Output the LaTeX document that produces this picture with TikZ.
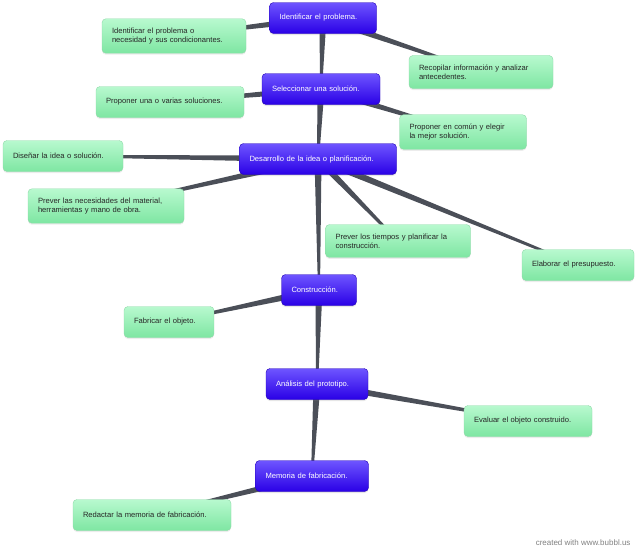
\documentclass[tikz,border=0pt]{standalone}
\usepackage{fontspec}
\setmainfont{Liberation Sans}
\usetikzlibrary{calc,backgrounds,shadows}
\definecolor{edgegray}{HTML}{4B4F58}
\definecolor{bluetop}{HTML}{6E55FF}
\definecolor{bluebot}{HTML}{2A00E6}
\definecolor{blueline}{HTML}{2200B8}
\definecolor{greentop}{HTML}{B8F9CF}
\definecolor{greenbot}{HTML}{7EE6A2}
\definecolor{greenline}{HTML}{8ED9A8}
\definecolor{textgray}{HTML}{262626}

\begin{document}
\begin{tikzpicture}[
    x=1pt, y=-1pt,
    every node/.style={font=\fontsize{7.6}{9.4}\selectfont},
    stage/.style={draw=blueline, rounded corners=4pt, top color=bluetop, bottom color=bluebot,
        text=white, align=left, inner xsep=10pt, inner ysep=9pt, minimum height=31pt, text width=#1,
        drop shadow={opacity=0.2, shadow xshift=0pt, shadow yshift=-1.5pt}},
    task/.style={draw=greenline, rounded corners=4pt, top color=greentop, bottom color=greenbot,
        text=textgray, align=left, inner xsep=10pt, inner ysep=9pt, minimum height=31pt, text width=#1,
        drop shadow={opacity=0.15, shadow xshift=0pt, shadow yshift=-1.5pt}},
    edge/.style={fill=edgegray}
]
\useasboundingbox (0,0) rectangle (640,554);

% etapas
\node[stage=87pt]  (prob) at (323,18)  {Identificar el problema.};
\node[stage=98pt]  (sel)  at (321,89)  {Seleccionar una solución.};
\node[stage=137pt] (des)  at (318,159) {Desarrollo de la idea o planificación.};
\node[stage=55pt]  (cons) at (319,290) {Construcción.};
\node[stage=82pt]  (anal) at (317,384) {Análisis del prototipo.};
\node[stage=93pt]  (mem)  at (312,476) {Memoria de fabricación.};

% tareas
\node[task=124pt] (necesidad)   at (174,36)  {Identificar el problema o\\necesidad y sus condicionantes.};
\node[task=124pt] (recopilar)   at (481,72)  {Recopilar información y analizar\\antecedentes.};
\node[task=128pt] (varias)      at (170,102) {Proponer una o varias soluciones.};
\node[task=107pt] (elegir)      at (463,132) {Proponer en común y elegir\\la mejor solución.};
\node[task=100pt] (disenar)     at (63,156)  {Diseñar la idea o solución.};
\node[task=136pt] (material)    at (106,206) {Prever las necesidades del material,\\herramientas y mano de obra.};
\node[task=125pt] (tiempos)     at (398,241) {Prever los tiempos y planificar la\\construcción.};
\node[task=92pt]  (presupuesto) at (578,265) {Elaborar el presupuesto.};
\node[task=70pt]  (fabricar)    at (169,322) {Fabricar el objeto.};
\node[task=108pt] (evaluar)     at (528,421) {Evaluar el objeto construido.};
\node[task=138pt] (redactar)    at (152,515) {Redactar la memoria de fabricación.};

% conexiones (mas gruesas en el padre)
\begin{scope}[on background layer]
\foreach \p/\c in {prob/sel, prob/necesidad, prob/recopilar,
                   sel/varias, sel/elegir, sel/des,
                   des/disenar, des/material, des/tiempos, des/presupuesto, des/cons,
                   cons/fabricar, cons/anal,
                   anal/evaluar, anal/mem,
                   mem/redactar}
  \fill[edge] ($(\p.center)!3.5pt!90:(\c.center)$) -- ($(\p.center)!3.5pt!-90:(\c.center)$)
    -- ($(\c.center)!1pt!90:(\p.center)$) -- ($(\c.center)!1pt!-90:(\p.center)$) -- cycle;
\end{scope}

\node[anchor=east, text=gray, font=\fontsize{8}{9}\selectfont] (firma) at (634,543) {created with www.bubbl.us};

\end{tikzpicture}
\end{document}
